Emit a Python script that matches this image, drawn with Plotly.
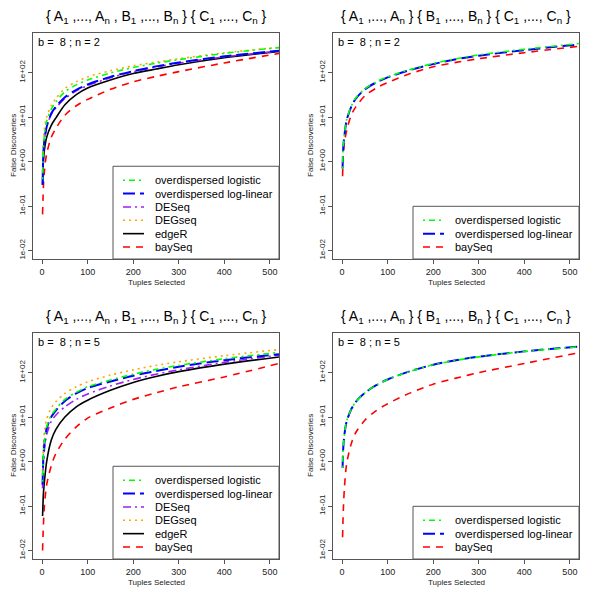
import plotly.graph_objects as go

# ---------------- data ----------------
tuples = [1, 2, 3, 5, 10, 20, 30, 50, 75, 100, 150, 200, 250, 300, 400, 520]

# panel 1: {A,B}{C}, b=8, n=2
p1_logistic = [0.4, 1.2, 2.0, 4.0, 8, 15, 22, 37, 53, 68, 98, 130, 162, 195, 270, 365]
p1_loglinear = [0.3, 0.9, 1.6, 3.0, 6.0, 12, 17, 28, 41, 54, 80, 108, 138, 168, 232, 310]
p1_deseq = [0.55, 1.0, 1.7, 3.0, 6.0, 11.5, 16, 26, 39, 51, 77, 104, 133, 163, 226, 305]
p1_degseq = [0.6, 1.8, 3.0, 5.5, 10, 18, 26, 44, 62, 80, 110, 142, 172, 205, 278, 368]
p1_edger = [0.3, 0.7, 1.1, 1.8, 3.5, 6.5, 9.5, 19, 32, 45, 68, 95, 120, 150, 215, 300]
p1_bayseq = [0.065, 0.15, 0.3, 0.6, 1.5, 3.5, 5.5, 11, 18, 25, 42, 62, 82, 105, 165, 270]

# panel 2: {A}{B}{C}, b=8, n=2
p2_logistic = [0.7, 1.6, 2.5, 4.0, 8.8, 17.5, 27, 43, 62, 80, 118, 160, 205, 250, 335, 450]
p2_loglinear = [0.7, 1.6, 2.4, 3.8, 8.5, 17, 26, 42, 60, 78, 115, 155, 200, 240, 320, 430]
p2_bayseq = [0.47, 1.0, 1.6, 2.6, 5, 11, 17, 30, 45, 60, 95, 135, 170, 205, 280, 390]

# panel 3: {A,B}{C}, b=8, n=5
p3_logistic = [0.35, 0.9, 1.6, 2.8, 6, 11, 15, 25, 36, 48, 68, 92, 118, 145, 205, 285]
p3_loglinear = [0.3, 0.8, 1.4, 2.5, 5.5, 10, 14, 23, 34, 45, 63, 85, 108, 135, 190, 260]
p3_deseq = [0.25, 0.6, 1.0, 1.8, 4, 8, 11, 17, 25, 33, 50, 70, 92, 115, 170, 245]
p3_degseq = [0.6, 1.5, 2.5, 4.5, 9, 16, 22, 34, 48, 62, 88, 115, 145, 175, 240, 330]
p3_edger = [0.06, 0.12, 0.2, 0.35, 1.0, 3.0, 5.2, 10, 17, 24, 40, 60, 82, 105, 155, 225]
p3_bayseq = [0.01, 0.022, 0.04, 0.1, 0.3, 0.8, 1.5, 3.2, 6, 9.5, 16, 25, 35, 48, 80, 160]

# panel 4: {A}{B}{C}, b=8, n=5
p4_logistic = [0.72, 1.6, 2.4, 4.0, 8.2, 15, 22, 35, 52, 70, 107, 150, 188, 226, 298, 382]
p4_loglinear = [0.72, 1.6, 2.4, 4.0, 8, 15, 22, 35, 52, 70, 108, 150, 190, 228, 300, 385]
p4_bayseq = [0.02, 0.05, 0.1, 0.25, 0.9, 2.5, 4.5, 8.5, 14, 20, 35, 55, 75, 100, 160, 280]

y_tickvals = [0.01, 0.1, 1, 10, 100]
y_ticktext = ["1e-02", "1e-01", "1e+00", "1e+01", "1e+02"]
x_tickvals = [0, 100, 200, 300, 400, 500]

title_ab = ("{ A<sub>1</sub> ,..., A<sub>n</sub> , B<sub>1</sub> ,..., B<sub>n</sub> } "
            "{ C<sub>1</sub> ,..., C<sub>n</sub> }")
title_abc = ("{ A<sub>1</sub> ,..., A<sub>n</sub> } { B<sub>1</sub> ,..., B<sub>n</sub> } "
             "{ C<sub>1</sub> ,..., C<sub>n</sub> }")

# ---------------- styles ----------------
FONT = "Liberation Sans, Arial, Helvetica, sans-serif"
styles = {
    "overdispersed logistic": dict(color="#00FF00", dash="2px,4px,6px,4px", width=1.6),
    "overdispersed log-linear": dict(color="#0000FF", dash="12px,5px", width=2.0),
    "DESeq": dict(color="#A020F0", dash="8px,4px,2px,4px", width=1.6),
    "DEGseq": dict(color="#FFA500", dash="2px,4px", width=1.6),
    "edgeR": dict(color="#000000", dash="solid", width=1.6),
    "baySeq": dict(color="#FF0000", dash="7px,6px", width=1.6),
}

panels = [
    dict(title=title_ab, sub="b =  8 ; n = 2", series=[
        ("overdispersed logistic", p1_logistic), ("overdispersed log-linear", p1_loglinear),
        ("DESeq", p1_deseq), ("DEGseq", p1_degseq), ("edgeR", p1_edger), ("baySeq", p1_bayseq)]),
    dict(title=title_abc, sub="b =  8 ; n = 2", series=[
        ("overdispersed logistic", p2_logistic), ("overdispersed log-linear", p2_loglinear),
        ("baySeq", p2_bayseq)]),
    dict(title=title_ab, sub="b =  8 ; n = 5", series=[
        ("overdispersed logistic", p3_logistic), ("overdispersed log-linear", p3_loglinear),
        ("DESeq", p3_deseq), ("DEGseq", p3_degseq), ("edgeR", p3_edger), ("baySeq", p3_bayseq)]),
    dict(title=title_abc, sub="b =  8 ; n = 5", series=[
        ("overdispersed logistic", p4_logistic), ("overdispersed log-linear", p4_loglinear),
        ("baySeq", p4_bayseq)]),
]

# the page body adds an 8 px offset; the figure is sized to fit the window
OFF = 8
W = H = 600 - OFF
fig = go.Figure()
shapes = []
annotations = []

# plot box in window pixels for the top-left panel; others are offset by 300 px
BOX_L, BOX_R, BOX_T, BOX_B = 33, 279, 33, 259
BOXCOL = "#555555"

def px(x):
    return (x - OFF) / W

def py(y):
    return 1 - (y - OFF) / H

for i, p in enumerate(panels):
    ox = 300 * (i % 2)
    oy = 300 * (i // 2)
    xa = "x" if i == 0 else f"x{i+1}"
    ya = "y" if i == 0 else f"y{i+1}"
    order = p["series"]
    for name, vals in reversed(order):
        st = styles[name]
        fig.add_trace(go.Scatter(
            x=tuples, y=vals, mode="lines", name=name, showlegend=False,
            line=dict(color=st["color"], dash=st["dash"], width=st["width"], shape="spline", smoothing=0.8),
            xaxis=xa, yaxis=ya, hoverinfo="skip"))
    xkey = "xaxis" if i == 0 else f"xaxis{i+1}"
    ykey = "yaxis" if i == 0 else f"yaxis{i+1}"
    fig.update_layout({
        xkey: dict(domain=[px(BOX_L + ox), px(BOX_R + ox)], anchor=ya, range=[-20, 520],
                   tickvals=x_tickvals, ticks="outside", ticklen=4, tickcolor=BOXCOL,
                   showline=True, linecolor=BOXCOL, linewidth=1, mirror=True,
                   showgrid=False, zeroline=False,
                   tickfont=dict(family=FONT, size=9, color="#222222")),
        ykey: dict(domain=[py(BOX_B + oy), py(BOX_T + oy)], anchor=xa, type="log",
                   range=[-2.19, 2.89], tickvals=y_tickvals, ticktext=y_ticktext,
                   tickangle=-90, ticks="outside", ticklen=4, tickcolor=BOXCOL,
                   showline=True, linecolor=BOXCOL, linewidth=1, mirror=True,
                   showgrid=False, zeroline=False,
                   tickfont=dict(family=FONT, size=8, color="#222222")),
    })
    cx = (BOX_L + BOX_R) / 2 + ox
    annotations.append(dict(text=p["title"], x=px(cx), y=py(17 + oy), xref="paper", yref="paper",
                            showarrow=False, xanchor="center", yanchor="middle",
                            font=dict(family=FONT, size=14, color="#000000")))
    annotations.append(dict(text=p["sub"], x=px(36 + ox), y=py(42 + oy), xref="paper", yref="paper",
                            showarrow=False, xanchor="left", yanchor="middle",
                            font=dict(family=FONT, size=11, color="#000000")))
    annotations.append(dict(text="Tuples Selected", x=px(cx), y=py(282 + oy), xref="paper", yref="paper",
                            showarrow=False, xanchor="center", yanchor="middle",
                            font=dict(family=FONT, size=8, color="#222222")))
    ylab_x = 13 if ox == 0 else 310
    annotations.append(dict(text="False Discoveries", x=px(ylab_x), y=py((BOX_T + BOX_B) / 2 + oy),
                            xref="paper", yref="paper", showarrow=False, textangle=-90,
                            xanchor="center", yanchor="middle", borderpad=0,
                            font=dict(family=FONT, size=8, color="#222222")))
    n = len(order)
    row_h = 13.35
    last_row = 247
    top = last_row - (n - 1) * row_h - 14
    shapes.append(dict(type="rect", xref="paper", yref="paper",
                       x0=px(113 + ox), x1=px(BOX_R + ox), y0=py(BOX_B + oy), y1=py(top + oy),
                       line=dict(color=BOXCOL, width=1), fillcolor="white", layer="above"))
    for k, (name, _) in enumerate(order):
        st = styles[name]
        yy = last_row - (n - 1 - k) * row_h + oy
        shapes.append(dict(type="line", xref="paper", yref="paper",
                           x0=px(123 + ox), x1=px(144 + ox), y0=py(yy), y1=py(yy),
                           line=dict(color=st["color"], dash=st["dash"], width=st["width"]),
                           layer="above"))
        annotations.append(dict(text=name, x=px(153 + ox), y=py(yy), xref="paper", yref="paper",
                                showarrow=False, xanchor="left", yanchor="middle",
                                font=dict(family=FONT, size=11, color="#000000")))

fig.update_layout(width=W, height=H, margin=dict(l=0, r=0, t=0, b=0),
                  paper_bgcolor="white", plot_bgcolor="white",
                  shapes=shapes, annotations=annotations, showlegend=False,
                  font=dict(family=FONT))
fig.write_html("out.html")
